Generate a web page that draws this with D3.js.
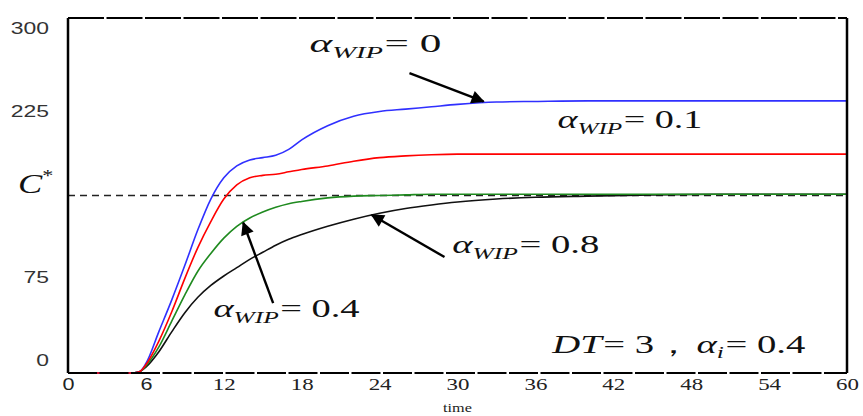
<!DOCTYPE html>
<html><head><meta charset="utf-8">
<script src="https://cdn.jsdelivr.net/npm/d3@7"></script>
<style>body{margin:0;background:#fff}svg{display:block}
.sans{font-family:"Liberation Sans",Arial,"DejaVu Sans",sans-serif}
</style>
</head><body>
<svg id="c" width="863" height="416"></svg>
<script>
// ---- data ----
const times  = [0,5,5.5,6,7,8,9,10,11,12,13,14,15,16,17,18,20,22,24,26,28,30,33,36,40,45,50,55,60];
const wip0   = [0,0,1,8,35,62,91,121,147,165,175,180,182,184,189,197,209,217,221,223,225,227,229,229.5,230,230,230,230,230];
const wip01  = [0,0,1,7,27,52,80,106,128,147,159,165,167,168,170,172,175,179,182,183.5,184.5,185,185,185,185,185,185,185,185];
const wip04  = [0,0,1,6,22,44,66,86,101,114,124,131,136,140,143,145,148,149.5,150,150.5,151,151,151,151,151,151,151,151,151];
const wip08  = [0,0,1,5,18,35,51,64,74,82,89,96,102,108,113,117,124,130,135,139,142,144.5,147,148.5,149.5,150.5,151,151,151];
const seriesNames  = ["0.8","0.4","0","0.1"];
const seriesColors = ["#111111","#1f8a1f","#3030ff","#ff0000"];
const xTicks = [0,6,12,18,24,30,36,42,48,54,60];
const yTicks = [0,75,225,300];
const cStar  = 150;
// annotations: label anchor (t,v), arrow tail/tip (t,v)
const annLabels = [
  {val:"0",   at:[18.6,271], w:132},
  {val:"0.1", at:[37.7,207], w:145},
  {val:"0.4", at:[11.2,47],  w:147},
  {val:"0.8", at:[29.6,101], w:147}
];
const arrows = [
  {from:[26.3,253.5], to:[32.0,229.5]},
  {from:[15.8,59],    to:[13.5,127]},
  {from:[29.0,98],    to:[23.4,133.5]}
];
const paramLabel = {at:[37.3,17], w:255};

// ---- pick an installed Times-like serif ----
function hasFont(name){
  const c=document.createElement("canvas").getContext("2d");
  const s="0123456789 αWIP DT=";
  c.font="40px monospace"; const a=c.measureText(s).width;
  c.font=`40px "${name}", monospace`; const b=c.measureText(s).width;
  return Math.abs(a-b)>0.5;
}
const serifName = ["Liberation Serif","Times New Roman","Tinos","DejaVu Serif"].find(hasFont) || "serif";
const serif = `"${serifName}", serif`;

// ---- layout ----
const svg = d3.select("#c");
const L=68, R=847, T=18, B=373;
const x = d3.scaleLinear().domain([0,60]).range([L,R]);
const y = d3.scaleLinear().domain([0,300]).range([B,T]);
const yLab = d3.scaleLinear().domain([0,300]).range([360,28]);
const SX = 1.35;

// C* dashed line
svg.append("line").attr("x1",x(0)).attr("x2",x(60)).attr("y1",y(cStar)).attr("y2",y(cStar))
  .attr("stroke","#222").attr("stroke-width",1.5).attr("stroke-dasharray","7,5");

// curves
const allSeries = [wip08, wip04, wip0, wip01];
const line = d3.line().x((d,i)=>x(times[i])).y(d=>y(d)).curve(d3.curveMonotoneX);
allSeries.forEach((s,k)=>{
  svg.append("path").datum(s).attr("d",line).attr("fill","none")
    .attr("stroke",seriesColors[k]).attr("stroke-width",1.6);
});

// frame
svg.append("line").attr("x1",L).attr("x2",L).attr("y1",T).attr("y2",B).attr("stroke","#000").attr("stroke-width",2.5);
svg.append("line").attr("x1",R).attr("x2",R).attr("y1",T).attr("y2",B).attr("stroke","#000").attr("stroke-width",2.5);
svg.append("line").attr("x1",L).attr("x2",R).attr("y1",T).attr("y2",T).attr("stroke","#000").attr("stroke-width",2.2).attr("stroke-dasharray","36,2.5");
svg.append("line").attr("x1",L).attr("x2",R).attr("y1",B).attr("y2",B).attr("stroke","#000").attr("stroke-width",2.2).attr("stroke-dasharray","29,2.5");

// x tick labels via axis
const xAxis = svg.append("g").attr("transform",`translate(0,${B})`)
  .call(d3.axisBottom(x).tickValues(xTicks).tickSize(0).tickPadding(0).tickFormat(d3.format("d")));
xAxis.attr("font-family",null).attr("font-size",null);
xAxis.select(".domain").remove();
xAxis.selectAll(".tick text").each(function(d){
  const t=d3.select(this).attr("y",0).attr("dy",0)
   .attr("transform",`translate(0,17) scale(${SX},1)`)
   .attr("font-size", d<12?16:17).attr("fill","#222");
  if(d<12) t.attr("class","sans"); else t.style("font-family",serif);
});
svg.append("text").style("font-family",serif).attr("transform",`translate(${x(30)},412) scale(${SX},1)`).attr("text-anchor","middle")
  .attr("font-size",12).attr("fill","#222").text("time");

// y tick labels
svg.selectAll(".ylab").data(yTicks).join("text").attr("class","sans")
  .attr("transform",d=>`translate(49,${yLab(d)}) scale(${SX},1)`)
  .attr("text-anchor","end").attr("dominant-baseline","central")
  .attr("font-size",17).attr("fill","#333").text(d=>d);
// C*
const cs = svg.append("text").style("font-family",serif).attr("transform",`translate(18,${y(cStar)-3}) scale(1.3,1)`)
  .attr("font-size",28).attr("font-style","italic").attr("fill","#111");
cs.append("tspan").text("C");
cs.append("tspan").attr("dy",-12).attr("font-size",17).attr("font-style","normal").text("*");

// math labels, stretched to the width they take in the reference
function mathText(at, segs, fs, w){
  const t = svg.append("text").style("font-family",serif)
    .attr("font-size",fs).attr("fill","#111");
  let shift=0;
  segs.forEach(s=>{
    const sp=t.append("tspan").text(s.t);
    if(s.i) sp.attr("font-style","italic");
    if(s.sub){ sp.attr("font-size",fs*0.66).attr("dy",fs*0.22-shift); shift=fs*0.22; }
    else if(shift){ sp.attr("dy",-shift); shift=0; }
    if(s.dx) sp.attr("dx",s.dx);
  });
  const bw = t.node().getBBox().width;
  t.attr("transform",`translate(${x(at[0])},${y(at[1])}) scale(${w/bw},1)`);
}
annLabels.forEach(a=>{
  mathText(a.at,[{t:"α",i:1},{t:"WIP",i:1,sub:1},{t:"= "+a.val,dx:1}],25,a.w);
});
mathText(paramLabel.at,[{t:"DT",i:1},{t:"= 3，",dx:1},{t:"α",i:1,dx:2},{t:"i",i:1,sub:1},{t:"= 0.4",dx:1}],25,paramLabel.w);

// arrows
const defs = svg.append("defs");
defs.append("marker").attr("id","ah").attr("viewBox","0 0 10 10").attr("refX",9).attr("refY",5)
  .attr("markerWidth",7).attr("markerHeight",5.5).attr("markerUnits","strokeWidth").attr("orient","auto")
  .append("path").attr("d","M0,0 L10,5 L0,10 Z").attr("fill","#000");
svg.selectAll(".arr").data(arrows).join("line").attr("class","arr")
  .attr("x1",d=>x(d.from[0])).attr("y1",d=>y(d.from[1]))
  .attr("x2",d=>x(d.to[0])).attr("y2",d=>y(d.to[1]))
  .attr("stroke","#000").attr("stroke-width",2.4).attr("marker-end","url(#ah)");
</script>
</body></html>
